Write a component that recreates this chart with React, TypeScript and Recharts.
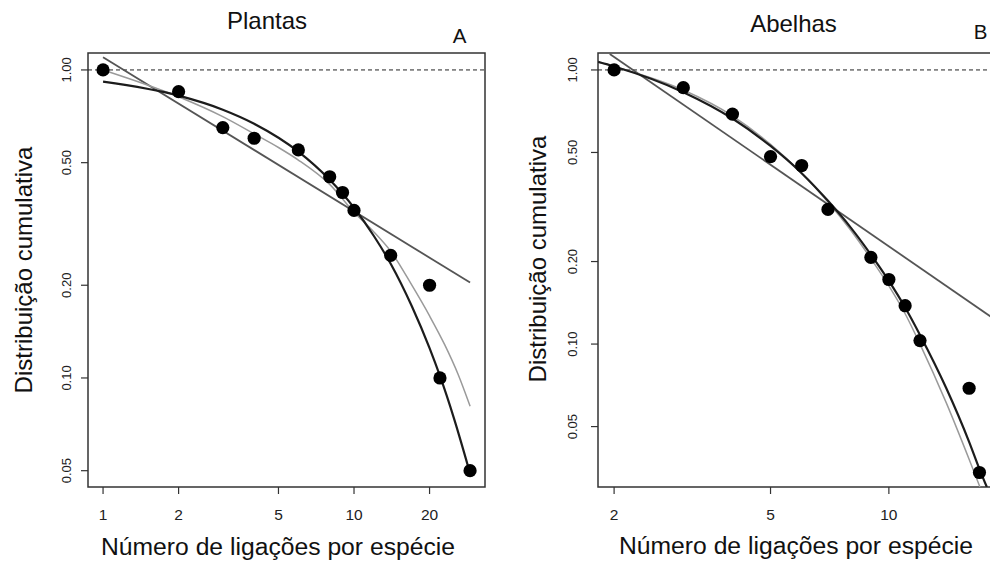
import React from "react";
import {
  ComposedChart,
  Line,
  Scatter,
  XAxis,
  YAxis,
  ReferenceLine,
  ReferenceArea,
} from "recharts";

// ---------- Data ----------
// Panel A – Plantas
const plantDegree = [1, 2, 3, 4, 6, 8, 9, 10, 14, 20, 22, 29];
const plantCumulative = [1.0, 0.85, 0.65, 0.6, 0.55, 0.45, 0.4, 0.35, 0.25, 0.2, 0.1, 0.05];
const plantPowerX = [1, 29];
const plantPowerY = [1.1, 0.204];
const plantExpX = [1, 2, 3, 4, 6, 8, 10, 12, 14, 17, 20, 22, 25, 29];
const plantExpY = [0.916, 0.825, 0.743, 0.669, 0.543, 0.44, 0.357, 0.289, 0.235, 0.171, 0.125, 0.1015, 0.0741, 0.049];
const plantTruncX = [1, 2, 3, 4, 5, 6, 8, 10, 12, 14, 17, 20, 23, 26, 29];
const plantTruncY = [1.0, 0.818, 0.705, 0.62, 0.56, 0.51, 0.425, 0.345, 0.298, 0.258, 0.2, 0.159, 0.128, 0.1026, 0.081];

// Panel B – Abelhas
const beeDegree = [2, 3, 4, 5, 6, 7, 9, 10, 11, 12, 16, 17];
const beeCumulative = [1.0, 0.862, 0.69, 0.483, 0.448, 0.31, 0.207, 0.172, 0.138, 0.103, 0.069, 0.034];
const beePowerX = [1.95, 18.6];
const beePowerY = [1.144, 0.123];
const beeExpX = [1.82, 2, 3, 4, 5, 6, 7, 8, 9, 10, 11, 12, 14, 16, 17, 17.75];
const beeExpY = [1.07, 1.03, 0.83, 0.665, 0.528, 0.42, 0.333, 0.266, 0.212, 0.17, 0.136, 0.108, 0.069, 0.044, 0.035, 0.0301];
const beeTruncX = [1.82, 2, 3, 4, 5, 6, 7, 8, 9, 10, 11, 12, 14, 16, 17.05];
const beeTruncY = [1.07, 1.03, 0.845, 0.68, 0.535, 0.42, 0.33, 0.26, 0.205, 0.163, 0.129, 0.1, 0.061, 0.038, 0.0301];

// Ticks
const yTicks = [0.05, 0.1, 0.2, 0.5, 1];
const yTickLabels = ["0.05", "0.10", "0.20", "0.50", "1.00"];
const plantXTicks = [1, 2, 5, 10, 20];
const plantXTickLabels = ["1", "2", "5", "10", "20"];
const beeXTicks = [2, 5, 10];
const beeXTickLabels = ["2", "5", "10"];

// Texts
const plantTitle = "Plantas";
const beeTitle = "Abelhas";
const xTitle = "Número de ligações por espécie";
const yTitle = "Distribuição cumulativa";

const FONT = "'Liberation Sans', Arial, Helvetica, sans-serif";

const toPoints = (xs: number[], ys: number[]) => xs.map((x, i) => ({ x, y: ys[i] }));

const Dot = (props: any) => <circle cx={props.cx} cy={props.cy} r={6.6} fill="#000" />;

type PanelProps = {
  left: number;
  width: number;
  marginLeft: number;
  xDomain: [number, number];
  yDomain: [number, number];
  xTicks: number[];
  xTickLabels: string[];
  yLabelOffset: number;
  degree: number[];
  cumulative: number[];
  powerX: number[];
  powerY: number[];
  expX: number[];
  expY: number[];
  truncX: number[];
  truncY: number[];
};

function Panel(p: PanelProps) {
  const XTick = (props: any) => {
    const i = p.xTicks.indexOf(props.payload.value);
    return (
      <text
        x={props.x}
        y={props.y + 19}
        dy="0.35em"
        textAnchor="middle"
        style={{ fontSize: 15.5, fontFamily: FONT }}
        fill="#222"
      >
        {i >= 0 ? p.xTickLabels[i] : ""}
      </text>
    );
  };
  const YTick = (props: any) => {
    const i = yTicks.indexOf(props.payload.value);
    const cx = props.x - p.yLabelOffset;
    return (
      <text
        x={cx}
        y={props.y}
        dy="0.35em"
        transform={`rotate(-90 ${cx} ${props.y})`}
        textAnchor="middle"
        style={{ fontSize: 13, fontFamily: FONT }}
        fill="#222"
      >
        {i >= 0 ? yTickLabels[i] : ""}
      </text>
    );
  };
  return (
    <div style={{ position: "absolute", left: p.left, top: 0 }}>
      <ComposedChart
        width={p.width}
        height={563}
        margin={{ top: 53, right: 10, bottom: 36, left: p.marginLeft }}
      >
        <XAxis
          dataKey="x"
          type="number"
          scale="log"
          domain={p.xDomain}
          allowDataOverflow
          ticks={p.xTicks}
          interval={0}
          height={40}
          tickSize={7}
          axisLine={false}
          tickLine={{ stroke: "#333", strokeWidth: 1.2 }}
          tick={<XTick />}
        />
        <YAxis
          dataKey="y"
          type="number"
          scale="log"
          domain={p.yDomain}
          allowDataOverflow
          ticks={yTicks}
          interval={0}
          width={40}
          tickSize={7}
          axisLine={false}
          tickLine={{ stroke: "#333", strokeWidth: 1.2 }}
          tick={<YTick />}
        />
        <ReferenceArea
          x1={p.xDomain[0]}
          x2={p.xDomain[1]}
          y1={p.yDomain[0]}
          y2={p.yDomain[1]}
          fill="none"
          fillOpacity={0}
          stroke="#333"
          strokeWidth={1.5}
          ifOverflow="visible"
        />
        <ReferenceLine y={1} stroke="#222" strokeDasharray="4 3" strokeWidth={1} />
        <Scatter data={toPoints(p.degree, p.cumulative)} shape={<Dot />} isAnimationActive={false} />
        <Line
          data={toPoints(p.powerX, p.powerY)}
          dataKey="y"
          type="linear"
          stroke="#555"
          strokeWidth={1.8}
          dot={false}
          activeDot={false}
          isAnimationActive={false}
        />
        <Line
          data={toPoints(p.truncX, p.truncY)}
          dataKey="y"
          type="monotone"
          stroke="#9a9a9a"
          strokeWidth={1.5}
          dot={false}
          activeDot={false}
          isAnimationActive={false}
        />
        <Line
          data={toPoints(p.expX, p.expY)}
          dataKey="y"
          type="monotone"
          stroke="#1c1c1c"
          strokeWidth={2.2}
          dot={false}
          activeDot={false}
          isAnimationActive={false}
        />
      </ComposedChart>
    </div>
  );
}

export default function App() {
  return (
    <div
      style={{
        position: "absolute",
        left: 0,
        top: 0,
        width: 990,
        height: 563,
        overflow: "hidden",
        background: "#fff",
        fontFamily: FONT,
      }}
    >
      <Panel
        left={0}
        width={495}
        marginLeft={48}
        xDomain={[0.871, 33.26]}
        yDomain={[0.04426, 1.135]}
        xTicks={plantXTicks}
        xTickLabels={plantXTickLabels}
        yLabelOffset={12.5}
        degree={plantDegree}
        cumulative={plantCumulative}
        powerX={plantPowerX}
        powerY={plantPowerY}
        expX={plantExpX}
        expY={plantExpY}
        truncX={plantTruncX}
        truncY={plantTruncY}
      />
      <Panel
        left={495}
        width={510}
        marginLeft={63}
        xDomain={[1.82, 18.62]}
        yDomain={[0.0301, 1.153]}
        xTicks={beeXTicks}
        xTickLabels={beeXTickLabels}
        yLabelOffset={17}
        degree={beeDegree}
        cumulative={beeCumulative}
        powerX={beePowerX}
        powerY={beePowerY}
        expX={beeExpX}
        expY={beeExpY}
        truncX={beeTruncX}
        truncY={beeTruncY}
      />
      <svg
        width={990}
        height={563}
        style={{ position: "absolute", left: 0, top: 0, pointerEvents: "none" }}
        fontFamily={FONT}
      >
        <text x={267} y={29.3} textAnchor="middle" fontSize={24} fill="#111">{plantTitle}</text>
        <text x={459.5} y={42.7} textAnchor="middle" fontSize={20.5} fill="#111">A</text>
        <text x={793.5} y={32.3} textAnchor="middle" fontSize={24} fill="#111">{beeTitle}</text>
        <text x={980.5} y={39.3} textAnchor="middle" fontSize={20.5} fill="#111">B</text>
        <text x={278} y={555} textAnchor="middle" fontSize={24.7} fill="#111">{xTitle}</text>
        <text x={796} y={554} textAnchor="middle" fontSize={24.7} fill="#111">{xTitle}</text>
        <text transform="translate(32,270) rotate(-90)" textAnchor="middle" fontSize={24} fill="#111">{yTitle}</text>
        <text transform="translate(545.5,259) rotate(-90)" textAnchor="middle" fontSize={24} fill="#111">{yTitle}</text>
      </svg>
    </div>
  );
}
